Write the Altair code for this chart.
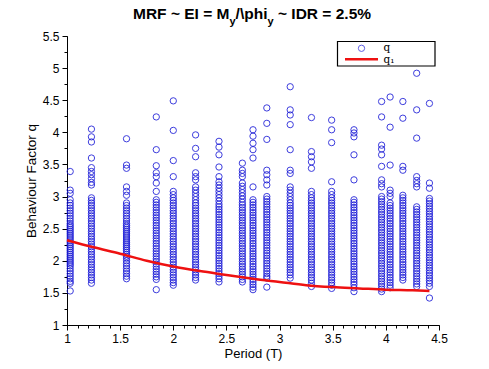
import altair as alt
import pandas as pd

# ---------------- data ----------------
periods = [1.03, 1.23, 1.56, 1.84, 2.00, 2.21, 2.43, 2.65, 2.75, 2.88,
           3.10, 3.30, 3.49, 3.70, 3.96, 4.04, 4.16, 4.29, 4.41]

q_c01 = [3.39, 3.10, 3.05, 2.95, 2.90, 2.86, 2.82, 2.78, 2.74, 2.70, 2.66, 2.62, 2.58, 2.55, 2.52,
         2.49, 2.46, 2.43, 2.40, 2.37, 2.34, 2.31, 2.28, 2.25, 2.22, 2.19, 2.16, 2.13, 2.10, 2.07,
         2.04, 2.01, 1.98, 1.95, 1.92, 1.88, 1.84, 1.80, 1.76, 1.72, 1.68, 1.65, 1.53]
q_c02 = [4.05, 3.93, 3.85, 3.60, 3.45, 3.39, 3.34, 3.28, 3.22, 3.18, 2.98, 2.94, 2.90, 2.86, 2.82,
         2.78, 2.74, 2.70, 2.66, 2.62, 2.58, 2.54, 2.50, 2.46, 2.42, 2.38, 2.34, 2.30, 2.26, 2.22,
         2.18, 2.14, 2.10, 2.06, 2.02, 1.98, 1.94, 1.90, 1.86, 1.82, 1.78, 1.74, 1.70, 1.65]
q_c03 = [3.90, 3.49, 3.44, 3.15, 3.08, 3.02, 2.90, 2.86, 2.82, 2.78, 2.74, 2.70, 2.66, 2.62, 2.58,
         2.55, 2.52, 2.49, 2.46, 2.43, 2.40, 2.37, 2.34, 2.31, 2.28, 2.25, 2.22, 2.19, 2.16, 2.13,
         2.10, 2.07, 2.04, 2.00, 1.96, 1.92, 1.88, 1.84, 1.80, 1.76, 1.72]
q_c04 = [4.24, 3.73, 3.48, 3.37, 3.31, 3.21, 3.08, 2.95, 2.91, 2.87, 2.83, 2.79, 2.75, 2.71, 2.67,
         2.63, 2.59, 2.55, 2.51, 2.47, 2.43, 2.39, 2.35, 2.31, 2.27, 2.23, 2.19, 2.15, 2.11, 2.07,
         2.03, 1.99, 1.95, 1.91, 1.87, 1.83, 1.79, 1.75, 1.71, 1.55]
q_c05 = [4.49, 4.03, 3.56, 3.31, 3.08, 3.03, 2.98, 2.94, 2.90, 2.86, 2.82, 2.78, 2.74, 2.70, 2.66,
         2.62, 2.58, 2.54, 2.50, 2.46, 2.42, 2.38, 2.34, 2.30, 2.26, 2.22, 2.18, 2.14, 2.10, 2.06,
         2.02, 1.98, 1.94, 1.90, 1.86, 1.82, 1.78, 1.74, 1.70, 1.66, 1.62]
q_c06 = [3.96, 3.75, 3.62, 3.37, 3.31, 3.26, 3.15, 3.10, 3.05, 3.00, 2.95, 2.90, 2.86, 2.82, 2.78,
         2.74, 2.70, 2.66, 2.62, 2.58, 2.54, 2.50, 2.46, 2.42, 2.38, 2.34, 2.30, 2.26, 2.22, 2.18,
         2.14, 2.10, 2.06, 2.02, 1.98, 1.94, 1.90, 1.86, 1.82, 1.78, 1.74, 1.70]
q_c07 = [3.86, 3.77, 3.65, 3.46, 3.31, 3.23, 3.18, 3.13, 3.08, 3.03, 2.98, 2.93, 2.88, 2.84, 2.80,
         2.76, 2.72, 2.68, 2.64, 2.60, 2.56, 2.52, 2.48, 2.44, 2.40, 2.36, 2.32, 2.28, 2.24, 2.20,
         2.16, 2.12, 2.08, 2.04, 2.00, 1.96, 1.92, 1.88, 1.84, 1.80, 1.76, 1.72, 1.67]
q_c08 = [3.52, 3.41, 3.36, 3.31, 3.21, 3.16, 3.11, 3.06, 3.01, 2.96, 2.91, 2.87, 2.83, 2.79, 2.75,
         2.71, 2.67, 2.63, 2.59, 2.55, 2.51, 2.47, 2.43, 2.39, 2.35, 2.31, 2.27, 2.23, 2.19, 2.15,
         2.11, 2.07, 2.03, 1.99, 1.95, 1.91, 1.87, 1.83, 1.79, 1.75, 1.71, 1.67]
q_c09 = [4.04, 3.94, 3.83, 3.73, 3.60, 3.15, 2.95, 2.91, 2.87, 2.83, 2.79, 2.75, 2.71, 2.67, 2.63,
         2.59, 2.55, 2.51, 2.47, 2.43, 2.39, 2.35, 2.31, 2.27, 2.23, 2.19, 2.15, 2.11, 2.07, 2.03,
         1.99, 1.95, 1.91, 1.87, 1.83, 1.79, 1.75, 1.71, 1.67, 1.63, 1.59, 1.55]
q_c10 = [4.38, 4.14, 3.89, 3.41, 3.34, 3.26, 3.18, 3.00, 2.96, 2.92, 2.88, 2.84, 2.80, 2.76, 2.72,
         2.68, 2.64, 2.60, 2.56, 2.52, 2.48, 2.44, 2.40, 2.36, 2.32, 2.28, 2.24, 2.20, 2.16, 2.12,
         2.08, 2.04, 2.00, 1.96, 1.92, 1.88, 1.84, 1.80, 1.76, 1.73, 1.59]
q_c11 = [4.71, 4.35, 4.27, 4.12, 3.73, 3.41, 3.36, 3.15, 3.10, 3.05, 3.00, 2.95, 2.90, 2.86, 2.82,
         2.78, 2.74, 2.70, 2.66, 2.62, 2.58, 2.54, 2.50, 2.46, 2.42, 2.38, 2.34, 2.30, 2.26, 2.22,
         2.18, 2.14, 2.10, 2.06, 2.02, 1.98, 1.94, 1.90, 1.86, 1.82, 1.78, 1.73]
q_c12 = [4.23, 3.70, 3.62, 3.54, 3.44, 3.08, 3.03, 2.98, 2.94, 2.90, 2.86, 2.82, 2.78, 2.74, 2.70,
         2.66, 2.62, 2.58, 2.54, 2.50, 2.46, 2.42, 2.38, 2.34, 2.30, 2.26, 2.22, 2.18, 2.14, 2.10,
         2.06, 2.02, 1.98, 1.94, 1.90, 1.86, 1.82, 1.78, 1.74, 1.70, 1.65, 1.60]
q_c13 = [4.19, 4.04, 3.84, 3.23, 3.08, 3.03, 2.98, 2.94, 2.90, 2.86, 2.82, 2.78, 2.74, 2.70, 2.66,
         2.62, 2.58, 2.54, 2.50, 2.46, 2.42, 2.38, 2.34, 2.30, 2.26, 2.22, 2.18, 2.14, 2.10, 2.06,
         2.02, 1.98, 1.94, 1.90, 1.86, 1.82, 1.78, 1.74, 1.70, 1.66, 1.62, 1.57]
q_c14 = [4.04, 3.99, 3.93, 3.65, 3.26, 2.95, 2.91, 2.87, 2.83, 2.79, 2.75, 2.71, 2.67, 2.63, 2.59,
         2.55, 2.51, 2.47, 2.43, 2.39, 2.35, 2.31, 2.27, 2.23, 2.19, 2.15, 2.11, 2.07, 2.03, 1.99,
         1.95, 1.91, 1.87, 1.83, 1.79, 1.75, 1.71, 1.67, 1.63, 1.58, 1.52]
q_c15 = [4.48, 4.24, 3.80, 3.74, 3.65, 3.47, 3.26, 3.20, 3.15, 3.00, 2.96, 2.92, 2.88, 2.84, 2.80,
         2.76, 2.72, 2.68, 2.64, 2.60, 2.56, 2.52, 2.48, 2.44, 2.40, 2.36, 2.32, 2.28, 2.24, 2.20,
         2.16, 2.12, 2.08, 2.04, 2.00, 1.96, 1.92, 1.88, 1.84, 1.80, 1.76, 1.72, 1.68, 1.64, 1.60,
         1.56, 1.52]
q_c16 = [4.55, 4.08, 3.49, 3.10, 3.05, 3.00, 2.90, 2.86, 2.82, 2.78, 2.74, 2.70, 2.66, 2.62, 2.58,
         2.54, 2.50, 2.46, 2.42, 2.38, 2.34, 2.30, 2.26, 2.22, 2.18, 2.14, 2.10, 2.06, 2.02, 1.98,
         1.94, 1.90, 1.86, 1.82, 1.78, 1.74, 1.70, 1.66, 1.62, 1.58]
q_c17 = [4.48, 4.22, 3.47, 3.41, 3.02, 2.98, 2.94, 2.90, 2.86, 2.82, 2.78, 2.74, 2.70, 2.66, 2.62,
         2.58, 2.54, 2.50, 2.46, 2.42, 2.38, 2.34, 2.30, 2.26, 2.22, 2.18, 2.14, 2.10, 2.06, 2.02,
         1.98, 1.94, 1.90, 1.86, 1.82, 1.78, 1.74, 1.70]
q_c18 = [4.92, 4.35, 3.91, 3.31, 3.25, 3.20, 3.15, 2.84, 2.80, 2.76, 2.72, 2.68, 2.64, 2.60, 2.56,
         2.52, 2.48, 2.44, 2.40, 2.36, 2.32, 2.28, 2.24, 2.20, 2.16, 2.12, 2.08, 2.04, 2.00, 1.96,
         1.92, 1.88, 1.84, 1.80, 1.76, 1.72, 1.68, 1.64, 1.60]
q_c19 = [4.45, 3.21, 3.13, 2.97, 2.93, 2.89, 2.85, 2.81, 2.77, 2.73, 2.69, 2.65, 2.61, 2.57, 2.53,
         2.49, 2.45, 2.41, 2.37, 2.33, 2.29, 2.25, 2.21, 2.17, 2.13, 2.09, 2.05, 2.01, 1.97, 1.93,
         1.89, 1.85, 1.81, 1.77, 1.73, 1.69, 1.65, 1.60, 1.42]

q_columns = [q_c01, q_c02, q_c03, q_c04, q_c05, q_c06, q_c07, q_c08, q_c09, q_c10,
             q_c11, q_c12, q_c13, q_c14, q_c15, q_c16, q_c17, q_c18, q_c19]

fit_T = [1.00, 1.25, 1.50, 1.75, 2.00, 2.25, 2.50, 2.75, 3.00, 3.25, 3.50, 3.75, 4.00, 4.25, 4.41]
fit_q = [2.32, 2.21, 2.11, 2.00, 1.91, 1.84, 1.78, 1.72, 1.67, 1.62, 1.59, 1.57, 1.55, 1.54, 1.53]

x_major = [1.0, 1.5, 2.0, 2.5, 3.0, 3.5, 4.0, 4.5]
x_minor = [1.0, 1.1, 1.2, 1.3, 1.4, 1.5, 1.6, 1.7, 1.8, 1.9, 2.0, 2.1, 2.2, 2.3, 2.4, 2.5, 2.6, 2.7,
           2.8, 2.9, 3.0, 3.1, 3.2, 3.3, 3.4, 3.5, 3.6, 3.7, 3.8, 3.9, 4.0, 4.1, 4.2, 4.3, 4.4, 4.5]
y_major = [1.0, 1.5, 2.0, 2.5, 3.0, 3.5, 4.0, 4.5, 5.0, 5.5]
y_minor = [1.0, 1.25, 1.5, 1.75, 2.0, 2.25, 2.5, 2.75, 3.0, 3.25, 3.5, 3.75, 4.0, 4.25, 4.5,
           4.75, 5.0, 5.25, 5.5]

title_parts = ["MRF ~ EI = M", "y", "/\\phi", "y", "~ IDR = 2.5%"]
legend_labels = ["q", "q\u2081"]

# ---------------- tables ----------------
scatter_df = pd.DataFrame(
    [{"T": t, "q": v} for t, col in zip(periods, q_columns) for v in col]
)
fit_df = pd.DataFrame({"T": fit_T, "q": fit_q})
one = pd.DataFrame({"k": [0]})

W, H = 372, 289
FONT = "Liberation Sans"
BLUE = "#1c1cd8"

x_scale = alt.Scale(domain=[1, 4.5], nice=False, zero=False)
y_scale = alt.Scale(domain=[1, 5.5], nice=False, zero=False)

x_axis = alt.Axis(
    values=x_major, title="Period (T)", grid=False, orient="bottom", format="~g",
    tickSize=5, labelFont=FONT, labelFontSize=12, labelColor="black", labelPadding=3,
    labelFlush=False, labelOverlap=False,
    titleFont=FONT, titleFontSize=13, titleFontWeight="normal", titleColor="black", titlePadding=3,
    domainColor="black", tickColor="black",
)
y_axis = alt.Axis(
    values=y_major, title="Behaviour Factor q", grid=False, orient="left", format="~g",
    tickSize=5, labelFont=FONT, labelFontSize=12, labelColor="black", labelPadding=3,
    labelFlush=False, labelOverlap=False,
    titleFont=FONT, titleFontSize=13.5, titleFontWeight="normal", titleColor="black", titlePadding=4,
    domainColor="black", tickColor="black",
)
x_minor_axis = alt.Axis(
    values=x_minor, title="", orient="bottom", grid=False, labels=False, domain=False,
    tickSize=3, tickColor="black",
)
y_minor_axis = alt.Axis(
    values=y_minor, title="", orient="left", grid=False, labels=False, domain=False,
    tickSize=3, tickColor="black",
)

points = alt.Chart(scatter_df).mark_point(
    shape="circle", filled=False, size=40, stroke=BLUE, strokeWidth=1.0, opacity=0.85
).encode(
    x=alt.X("T:Q", scale=x_scale, axis=x_axis),
    y=alt.Y("q:Q", scale=y_scale, axis=y_axis),
)

fit_line = alt.Chart(fit_df).mark_line(
    color="#ee1111", strokeWidth=2.5, interpolate="monotone"
).encode(
    x=alt.X("T:Q", scale=x_scale, axis=x_minor_axis),
    y=alt.Y("q:Q", scale=y_scale, axis=y_minor_axis),
)

# ---------------- title (with subscripts) ----------------
def txt(s, x, y, size, weight="bold", font=FONT):
    return alt.Chart(one).mark_text(
        align="left", baseline="alphabetic", font=font, fontSize=size,
        fontWeight=weight, color="black"
    ).encode(x=alt.value(x), y=alt.value(y), text=alt.value(s))

title_layers = [
    txt(title_parts[0], 66, -17, 15.5),
    txt(title_parts[1], 162.5, -11, 11),
    txt(title_parts[2], 168.6, -17, 15.5),
    txt(title_parts[3], 200.5, -11, 11),
    txt(title_parts[4], 211.0, -17, 15.5),
]

# ---------------- legend ----------------
legend_box = alt.Chart(one).mark_rect(
    fill="white", stroke="black", strokeWidth=1.2
).encode(x=alt.value(270.5), x2=alt.value(368), y=alt.value(5.5), y2=alt.value(30))
legend_pt = alt.Chart(one).mark_point(
    shape="circle", filled=False, size=40, stroke=BLUE, strokeWidth=1.0
).encode(x=alt.value(294.5), y=alt.value(12.3))
legend_ln = alt.Chart(one).mark_rule(color="#ee1111", strokeWidth=2.5).encode(
    x=alt.value(278), x2=alt.value(311), y=alt.value(23.3)
)
legend_t1 = alt.Chart(one).mark_text(
    align="left", baseline="middle", font="DejaVu Serif", fontSize=10.5, color="black"
).encode(x=alt.value(316.5), y=alt.value(11.5), text=alt.value(legend_labels[0]))
legend_t2 = alt.Chart(one).mark_text(
    align="left", baseline="middle", font="DejaVu Serif", fontSize=10.5, color="black"
).encode(x=alt.value(316.5), y=alt.value(23.5), text=alt.value(legend_labels[1]))

chart = alt.layer(
    points, fit_line, *title_layers,
    legend_box, legend_pt, legend_ln, legend_t1, legend_t2,
).resolve_axis(
    x="independent", y="independent"
).properties(
    width=W, height=H,
    autosize=alt.AutoSizeParams(type="none"),
    padding={"left": 59, "top": 28, "right": 30, "bottom": 38},
    background="white",
).configure_view(stroke=None)

chart.save("out.html", embed_options={"renderer": "svg", "actions": False})
